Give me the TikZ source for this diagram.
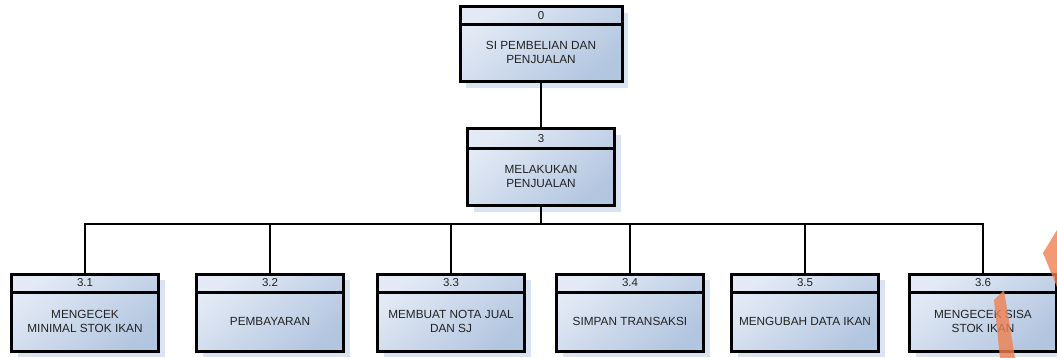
\documentclass[tikz,border=0pt]{standalone}
\usepackage{fontspec}
\setmainfont{Liberation Sans}
\usetikzlibrary{shadows}

\definecolor{boxlight}{HTML}{E3EAF5}
\definecolor{boxdark}{HTML}{B3C6E0}
\definecolor{shadowblue}{HTML}{DAE3F1}
\definecolor{teks}{HTML}{222222}
\definecolor{stripe}{HTML}{F08050}

\tikzset{
	proses/.style={draw, line width=3pt, rectangle, inner sep=0pt,
		minimum width=147pt, minimum height=77pt,
		top color=boxlight, bottom color=boxdark, shading angle=40,
		drop shadow={shadow xshift=6pt, shadow yshift=-6pt, fill=shadowblue, opacity=1}},
	pisah/.style={line width=3pt},
	nomor/.style={font=\fontsize{11.5}{13}\selectfont, text=teks, inner sep=0pt},
	isi/.style={font=\fontsize{11.8}{14}\selectfont, text=teks, align=center, inner sep=0pt},
	garis/.style={line width=1.3pt}
}

\begin{document}
\begin{tikzpicture}[x=1pt,y=-1pt]
	\useasboundingbox (0,0) rectangle (1057,358);

	% Top process
	\node[proses, minimum width=162pt, minimum height=75pt] (p0) at (541,44.5) {};
	\draw[pisah] ([yshift=-19pt]p0.north west) -- ([yshift=-19pt]p0.north east);
	\node[nomor] (n0) at ([yshift=-10pt]p0.north) {0};
	\node[isi] (t0) at ([yshift=-47pt]p0.north) {SI PEMBELIAN DAN\\PENJUALAN};

	% Process 3
	\node[proses] (p3) at (541,167.5) {};
	\draw[pisah] ([yshift=-21pt]p3.north west) -- ([yshift=-21pt]p3.north east);
	\node[nomor] (n3) at ([yshift=-11pt]p3.north) {3};
	\node[isi] (t3) at ([yshift=-49pt]p3.north) {MELAKUKAN\\PENJUALAN};

	% Sub processes
	\foreach \i/\xpos/\teks in {1/85/{MENGECEK\\MINIMAL STOK IKAN},
			2/270/{PEMBAYARAN},
			3/451/{MEMBUAT NOTA JUAL\\DAN SJ},
			4/630/{SIMPAN TRANSAKSI},
			5/805/{MENGUBAH DATA IKAN},
			6/983/{MENGECEK SISA\\STOK IKAN}} {
		\node[proses] (s\i) at (\xpos,312.5) {};
		\draw[pisah] ([yshift=-20pt]s\i.north west) -- ([yshift=-20pt]s\i.north east);
		\node[nomor] (m\i) at ([yshift=-10pt]s\i.north) {3.\i};
		\node[isi] (u\i) at ([yshift=-49pt]s\i.north) {\teks};
	}

	% Connectors
	\draw[garis] (p0.south) -- (p3.north);
	\coordinate (bus) at (541,224);
	\draw[garis] (p3.south) -- (bus);
	\foreach \i in {1,...,6}
		\draw[garis] (bus) -| (s\i.north);

	% Orange stripes
	\fill[stripe, opacity=0.8] (994,300) -- (1004,290) -- (1015,358) -- (1000,358) -- cycle;
	\fill[stripe, opacity=0.8] (1043,253) -- (1057,230) -- (1057,287) -- cycle;

\end{tikzpicture}
\end{document}
